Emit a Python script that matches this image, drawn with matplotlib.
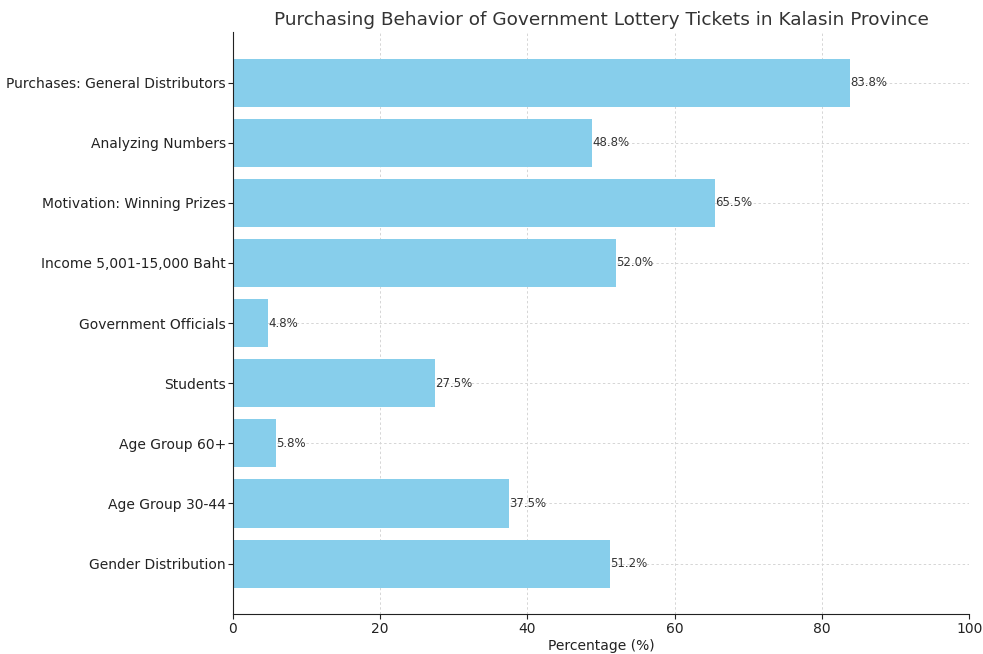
import matplotlib
matplotlib.use("Agg")
import matplotlib.pyplot as plt

categories = [
    "Gender Distribution",
    "Age Group 30-44",
    "Age Group 60+",
    "Students",
    "Government Officials",
    "Income 5,001-15,000 Baht",
    "Motivation: Winning Prizes",
    "Analyzing Numbers",
    "Purchases: General Distributors",
]
values = [51.2, 37.5, 5.8, 27.5, 4.8, 52.0, 65.5, 48.8, 83.8]

fig = plt.figure(figsize=(9.83, 6.54), dpi=100)
ax = fig.add_axes([0.237, 0.061, 0.749, 0.890])

bars = ax.barh(categories, values, color="skyblue", zorder=2)
for b, v in zip(bars, values):
    ax.text(b.get_width(), b.get_y() + b.get_height() / 2, f"{v}%",
            va="center", ha="left", fontsize=8.5, color="#333333", zorder=3)

ax.set_xlim(0, 100)
ax.set_xlabel("Percentage (%)", fontsize=10, color="#222222", labelpad=2)
ax.set_title("Purchasing Behavior of Government Lottery Tickets in Kalasin Province",
             fontsize=13.3, color="#333333", pad=5)
ax.grid(True, linestyle=(0, (2.5, 2.5)), color="#d5d5d5", linewidth=0.7, zorder=0)
ax.set_axisbelow(True)
for s in ["top", "right"]:
    ax.spines[s].set_visible(False)
for s in ["left", "bottom"]:
    ax.spines[s].set_color("#222222")
ax.tick_params(axis="y", labelsize=10, colors="#222222", pad=1.5)
ax.tick_params(axis="x", labelsize=10, colors="#222222", pad=2)

fig.savefig("out.png", dpi=100)
